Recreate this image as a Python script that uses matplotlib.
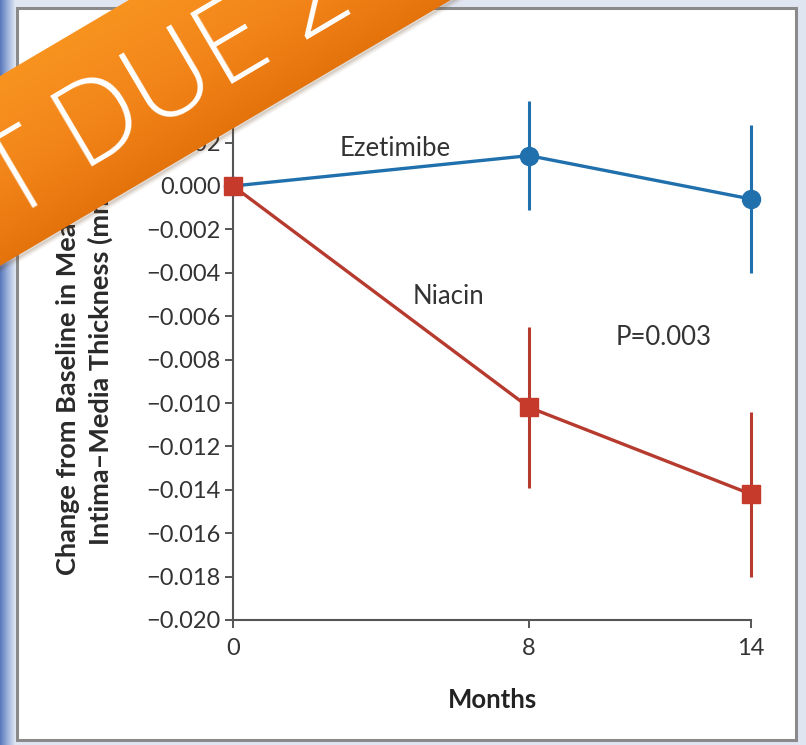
import numpy as np
import matplotlib
matplotlib.use('Agg')
import matplotlib.pyplot as plt
from matplotlib.patches import Polygon, Rectangle
from matplotlib.colors import LinearSegmentedColormap

# carotid intima-media thickness, change from baseline (mm)
months = [0, 8, 14]
ezetimibe = [0.0, 0.0014, -0.0006]
ezetimibe_err = [0.0, 0.0025, 0.0034]
niacin = [0.0, -0.0102, -0.0142]
niacin_err = [0.0, 0.0037, 0.0038]

yticks = [-0.020, -0.018, -0.016, -0.014, -0.012, -0.010, -0.008,
          -0.006, -0.004, -0.002, 0.000, 0.002, 0.004]
xticks = [0, 8, 14]

W, H = 806, 745
plt.rcParams['font.family'] = ['Lato', 'DejaVu Sans']

fig = plt.figure(figsize=(W / 100, H / 100), dpi=100)
fig.patch.set_facecolor('#dfe5f1')

# slide background: blue edge strip + white framed panel
bg = fig.add_axes([0, 0, 1, 1], zorder=0)
bg.set_xlim(0, W)
bg.set_ylim(H, 0)
bg.axis('off')
edge = LinearSegmentedColormap.from_list('edge', ['#5877ba', '#9fb3dc', '#e4eaf5'])
bg.imshow(np.linspace(0, 1, 50)[None, :], cmap=edge, aspect='auto',
          extent=[0, 16, H, 0], zorder=0)
bg.add_patch(Rectangle((17, 8), 779, 732, facecolor='white',
                       edgecolor='#8a8a8a', lw=2.2, zorder=1))

# chart
ax = fig.add_axes([233 / W, 125 / H, 518 / W, 520.8 / H], zorder=2)
ax.patch.set_alpha(0)
blue = '#1f70ad'
red = '#c63a2c'
ax.errorbar(months, ezetimibe, yerr=ezetimibe_err, color=blue, lw=2.4,
            elinewidth=2.2, capsize=0, marker='o', ms=13, clip_on=False, zorder=3)
ax.errorbar(months, niacin, yerr=niacin_err, color='#b63a2e', lw=2.4,
            elinewidth=2.2, capsize=0, marker='s', ms=13.5, mfc=red, mec=red,
            clip_on=False, zorder=4)

ax.set_xlim(0, 14)
ax.set_ylim(-0.020, 0.004)
ax.set_xticks(xticks)
ax.set_xticklabels([str(m) for m in xticks])
ax.set_yticks(yticks)
ax.set_yticklabels([f'{v:.3f}'.replace('-', '\u2212') for v in yticks])
for s in ['top', 'right']:
    ax.spines[s].set_visible(False)
for s in ['left', 'bottom']:
    ax.spines[s].set_color('#555555')
    ax.spines[s].set_linewidth(1.5)
ax.tick_params(axis='both', colors='#555555', width=1.4, length=6,
               labelsize=17, labelcolor='#333333')
ax.tick_params(axis='y', pad=3)
ax.tick_params(axis='x', pad=7)
ax.set_xlabel('Months', fontsize=18.5, fontweight='bold', color='#222222', labelpad=21)

fig.text(68 / W, 1 - 575 / H, 'Change from Baseline in Mean Carotid', rotation=90,
         rotation_mode='anchor', ha='left', va='center', fontsize=19.5,
         fontweight='bold', color='#2a2a2a')
fig.text(100 / W, 1 - 545 / H, 'Intima\u2013Media Thickness (mm)', rotation=90,
         rotation_mode='anchor', ha='left', va='center', fontsize=19.5,
         fontweight='bold', color='#2a2a2a')

ax.text(4.37, 0.00175, 'Ezetimibe', fontsize=18.5, color='#333333', ha='center', va='center')
ax.text(5.83, -0.0051, 'Niacin', fontsize=18.5, color='#333333', ha='center', va='center')
ax.text(11.63, -0.0070, 'P=0.003', fontsize=18.5, color='#333333', ha='center', va='center')

# diagonal orange banner across the top-left corner
ov = fig.add_axes([0, 0, 1, 1], zorder=10)
ov.set_xlim(0, W)
ov.set_ylim(H, 0)
ov.axis('off')
ov.patch.set_alpha(0)

slope, top0, bot0 = 0.59, 76, 266
band = Polygon([(-60, top0 + slope * 60), (700, top0 - slope * 700),
                (700, bot0 - slope * 700), (-60, bot0 + slope * 60)],
               closed=True, facecolor='none', edgecolor='none')
ov.add_patch(band)

for k, a in enumerate([0.18, 0.12, 0.07, 0.04]):
    off = 1.5 + 1.5 * k
    ov.plot([-60, 700], [bot0 + off + slope * 60, bot0 + off - slope * 700],
            color='#6b4a2a', lw=2, alpha=a, solid_capstyle='butt')

xx, yy = np.meshgrid(np.linspace(0, 480, 480), np.linspace(0, 300, 300))
t = np.clip((yy + slope * xx - top0) / (bot0 - top0), 0, 1)
orange = LinearSegmentedColormap.from_list('orange', ['#f8931f', '#f3861a', '#e5730c'])
im = ov.imshow(t, cmap=orange, extent=[0, 480, 300, 0], aspect='auto', zorder=1)
im.set_clip_path(band)

ang = np.degrees(np.arctan(slope))
ux, uy = np.cos(np.radians(ang)), -np.sin(np.radians(ang))
x0, y0 = 82, 172
ov.text(x0, y0, 'DUE 2013', rotation=ang, rotation_mode='anchor', ha='left',
        va='baseline', fontsize=82, color='white', family='Open Sans',
        fontweight='light', zorder=2)
ov.text(x0 - 26 * ux, y0 - 26 * uy, 'NOT', rotation=ang, rotation_mode='anchor',
        ha='right', va='baseline', fontsize=82, color='white', family='Open Sans',
        fontweight='light', zorder=2)

fig.savefig('out.png', dpi=100, facecolor=fig.get_facecolor())
